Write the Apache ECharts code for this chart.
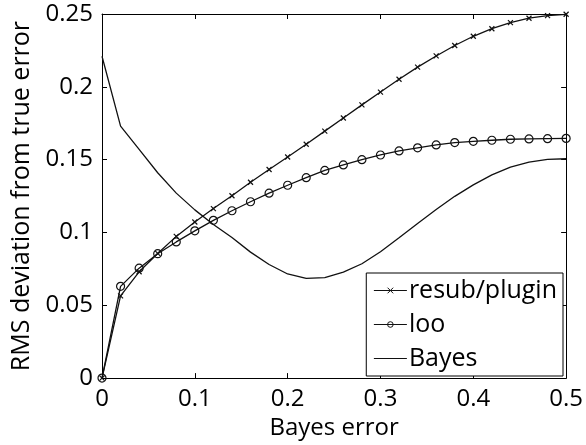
<!DOCTYPE html>
<html>
<head>
<meta charset="utf-8">
<script src="https://cdn.jsdelivr.net/npm/echarts@6/dist/echarts.min.js"></script>
<style>
html,body{margin:0;padding:0;background:#fff;}
#chart{width:586px;height:445px;}
</style>
</head>
<body>
<div id="chart"></div>
<script>
const bayesError = [0,0.02,0.04,0.06,0.08,0.10,0.12,0.14,0.16,0.18,0.20,0.22,0.24,0.26,0.28,0.30,0.32,0.34,0.36,0.38,0.40,0.42,0.44,0.46,0.48,0.50];
const resubPlugin = [0,0.0565,0.073,0.0856,0.0973,0.1072,0.1164,0.1252,0.1345,0.1432,0.1518,0.1606,0.1696,0.1786,0.1876,0.1964,0.2052,0.2135,0.2212,0.2284,0.2347,0.2399,0.2441,0.2471,0.2489,0.2498];
const loo = [0,0.063,0.0755,0.0854,0.0935,0.1011,0.1083,0.1149,0.1211,0.127,0.1324,0.1376,0.1426,0.1464,0.15,0.1532,0.156,0.1581,0.1601,0.1617,0.1626,0.1633,0.164,0.1642,0.1644,0.1646];
const bayes = [0.221,0.173,0.157,0.141,0.127,0.1155,0.1055,0.0965,0.0865,0.078,0.0715,0.0685,0.069,0.0728,0.0785,0.0868,0.0963,0.1062,0.1158,0.1248,0.1327,0.1395,0.1448,0.1483,0.1502,0.1506];
const seriesNames = ['resub/plugin','loo','Bayes'];
const xAxisTitle = 'Bayes error';
const yAxisTitle = 'RMS deviation from true error';

const FONT = 'Open Sans';
const pairs = v => bayesError.map((x,i)=>[x,v[i]]);
const chart = echarts.init(document.getElementById('chart'), null, {renderer:'canvas'});

const axisCommon = {
  type:'value',
  axisLine:{show:true,onZero:false,lineStyle:{color:'#000',width:1}},
  axisTick:{show:true,inside:true,length:5,lineStyle:{color:'#000'}},
  splitLine:{show:false}
};

chart.setOption({
  backgroundColor:'#fff',
  animation:false,
  grid:{left:102,top:14,right:16,bottom:61,containLabel:false},
  xAxis:[
    Object.assign({}, axisCommon, {
      min:0,max:0.5,interval:0.1,position:'bottom',
      name:xAxisTitle,nameLocation:'middle',nameGap:35,
      nameTextStyle:{fontFamily:FONT,fontSize:24,color:'#000'},
      axisLabel:{fontFamily:FONT,fontSize:24,color:'#000',margin:9}
    }),
    Object.assign({}, axisCommon, {
      min:0,max:0.5,interval:0.1,position:'top',axisLabel:{show:false}
    })
  ],
  yAxis:[
    Object.assign({}, axisCommon, {
      min:0,max:0.25,interval:0.05,position:'left',
      name:yAxisTitle,nameLocation:'middle',nameGap:66,
      nameTextStyle:{fontFamily:FONT,fontSize:25,color:'#000'},
      axisLabel:{fontFamily:FONT,fontSize:24,color:'#000',margin:9}
    }),
    Object.assign({}, axisCommon, {
      min:0,max:0.25,interval:0.05,position:'right',axisLabel:{show:false}
    })
  ],
  legend:{
    orient:'vertical',
    right:23, top:273,
    padding:[5,6,5,7],
    itemGap:9,
    itemWidth:33, itemHeight:7,
    backgroundColor:'#fff',
    borderColor:'#000', borderWidth:1,
    textStyle:{fontFamily:FONT,fontSize:25,color:'#000',lineHeight:25,padding:[0,0,0,-3]},
    itemStyle:{borderWidth:1},
    lineStyle:{width:1.2},
    data:seriesNames
  },
  series:[
    {
      name:seriesNames[0], type:'line', data:pairs(resubPlugin),
      symbol:'path://M0,0L10,10M10,0L0,10', symbolSize:5,
      lineStyle:{color:'#111',width:1.3},
      itemStyle:{color:'transparent',borderColor:'#111',borderWidth:1.2},
      emphasis:{disabled:true}
    },
    {
      name:seriesNames[1], type:'line', data:pairs(loo),
      symbol:'circle', symbolSize:8,
      lineStyle:{color:'#111',width:1.3},
      itemStyle:{color:'transparent',borderColor:'#111',borderWidth:1.2},
      emphasis:{disabled:true}
    },
    {
      name:seriesNames[2], type:'line', data:pairs(bayes),
      symbol:'none', smooth:false,
      lineStyle:{color:'#111',width:1.3},
      itemStyle:{color:'transparent',borderColor:'transparent',borderWidth:0},
      emphasis:{disabled:true}
    }
  ]
});
</script>
</body>
</html>
